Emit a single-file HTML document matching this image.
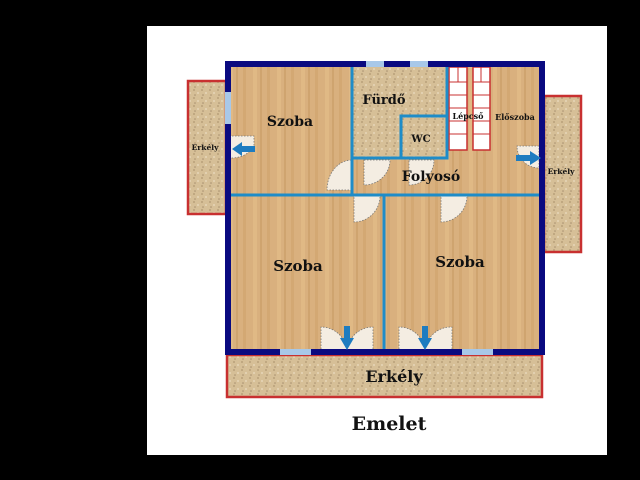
<!DOCTYPE html>
<html><head><meta charset="utf-8"><style>
html,body{margin:0;padding:0;background:#000;}
svg{display:block}
text{font-family:"DejaVu Serif","Liberation Serif",serif;font-weight:bold;fill:#111}
</style></head><body>
<svg width="640" height="480" viewBox="0 0 640 480" xmlns="http://www.w3.org/2000/svg">
<defs>
<pattern id="wood" width="24" height="40" patternUnits="userSpaceOnUse">
<rect width="24" height="40" fill="#d9b07e"/>
<rect x="3" width="3" height="40" fill="#d3a873"/>
<rect x="13" width="4" height="40" fill="#e0b985"/>
<rect x="20" width="2" height="40" fill="#cfa46f"/>
</pattern>
<pattern id="tile" width="8" height="8" patternUnits="userSpaceOnUse">
<rect width="8" height="8" fill="#d6bf97"/>
<circle cx="2" cy="2" r="1" fill="#b9a07a"/>
<circle cx="6" cy="5" r="1" fill="#e6d6b8"/>
<circle cx="3" cy="7" r="0.8" fill="#a89070"/>
</pattern>
</defs>
<rect x="147" y="26" width="460" height="429" fill="#fff"/>
<rect x="188" y="81" width="38" height="133" fill="url(#tile)" stroke="#c83030" stroke-width="2.5"/>
<rect x="544" y="96" width="37" height="156" fill="url(#tile)" stroke="#c83030" stroke-width="2.5"/>
<rect x="227" y="355" width="315" height="42" fill="url(#tile)" stroke="#c83030" stroke-width="2.5"/>
<rect x="228" y="64" width="314" height="288" fill="url(#wood)"/>
<rect x="352" y="67" width="95" height="91" fill="url(#tile)"/>
<g fill="#fff" stroke="#c83030" stroke-width="1.5">
<rect x="449" y="67" width="18" height="83"/>
<rect x="473" y="67" width="17" height="83"/>
</g>
<g stroke="#c83030" stroke-width="1">
<line x1="449" y1="82" x2="467" y2="82"/><line x1="449" y1="95" x2="467" y2="95"/><line x1="449" y1="108" x2="467" y2="108"/><line x1="449" y1="121" x2="467" y2="121"/><line x1="449" y1="134" x2="467" y2="134"/>
<line x1="473" y1="82" x2="490" y2="82"/><line x1="473" y1="95" x2="490" y2="95"/><line x1="473" y1="108" x2="490" y2="108"/><line x1="473" y1="121" x2="490" y2="121"/><line x1="473" y1="134" x2="490" y2="134"/>
<line x1="458" y1="67" x2="458" y2="82"/><line x1="481" y1="67" x2="481" y2="82"/>
</g>
<g fill="#f4ede2" stroke="#777" stroke-width="0.8" stroke-dasharray="1.5,1.5">
<path d="M352,160 L352,190 L327,190 A25,30 0 0 1 352,160Z"/>
<path d="M364,160 L390,160 A26,25 0 0 1 364,185Z"/>
<path d="M409,160 L434,160 A25,25 0 0 1 409,185Z"/>
<path d="M354,196 L380,196 A26,26 0 0 1 354,222Z"/>
<path d="M441,196 L467,196 A26,26 0 0 1 441,222Z"/>
<path d="M229,136 L254,136 L254,146 A25,20 0 0 1 229,158Z"/>
<path d="M539,146 L517,146 A22,22 0 0 0 539,168Z"/>
<path d="M321,352 L321,327 A26,26 0 0 1 347,352Z"/>
<path d="M373,352 L373,327 A26,26 0 0 0 347,352Z"/>
<path d="M399,352 L399,327 A26,26 0 0 1 425,352Z"/>
<path d="M452,352 L452,327 A26,26 0 0 0 425,352Z"/>
</g>
<g stroke="#1e8cc8" stroke-width="3" fill="none">
<line x1="352" y1="67" x2="352" y2="195"/>
<line x1="231" y1="195" x2="539" y2="195"/>
<line x1="384" y1="195" x2="384" y2="349"/>
<line x1="447" y1="67" x2="447" y2="158"/>
<line x1="352" y1="158" x2="447" y2="158"/>
<rect x="401" y="116" width="46" height="42"/>
</g>
<rect x="228" y="64" width="314" height="288" fill="none" stroke="#0a0a80" stroke-width="6"/>
<g fill="#a8c8e8">
<rect x="366" y="61" width="18" height="6"/>
<rect x="410" y="61" width="18" height="6"/>
<rect x="225" y="92" width="6" height="32"/>
<rect x="280" y="349" width="31" height="6"/>
<rect x="462" y="349" width="31" height="6"/>
</g>
<g fill="#1e7cc0">
<path d="M232,149 L242,142 L242,146 L255,146 L255,152 L242,152 L242,156Z"/>
<path d="M541,158 L530,151 L530,155 L516,155 L516,161 L530,161 L530,165Z"/>
<path d="M347,350 L340,338 L344,338 L344,326 L350,326 L350,338 L354,338Z"/>
<path d="M425,350 L418,338 L422,338 L422,326 L428,326 L428,338 L432,338Z"/>
</g>
<text x="290" y="126" font-size="14" text-anchor="middle">Szoba</text>
<text x="384" y="104" font-size="13" text-anchor="middle">Fürdő</text>
<text x="421" y="142" font-size="10" text-anchor="middle">WC</text>
<text x="468" y="119" font-size="8" text-anchor="middle">Lépcső</text>
<text x="515" y="120" font-size="8" text-anchor="middle">Előszoba</text>
<text x="431" y="181" font-size="14" text-anchor="middle">Folyosó</text>
<text x="205" y="150" font-size="7.5" text-anchor="middle">Erkély</text>
<text x="561" y="174" font-size="7.5" text-anchor="middle">Erkély</text>
<text x="298" y="271" font-size="15" text-anchor="middle">Szoba</text>
<text x="460" y="267" font-size="15" text-anchor="middle">Szoba</text>
<text x="394" y="382" font-size="16" text-anchor="middle">Erkély</text>
<text x="389" y="430" font-size="19" text-anchor="middle">Emelet</text>
</svg>
</body></html>
